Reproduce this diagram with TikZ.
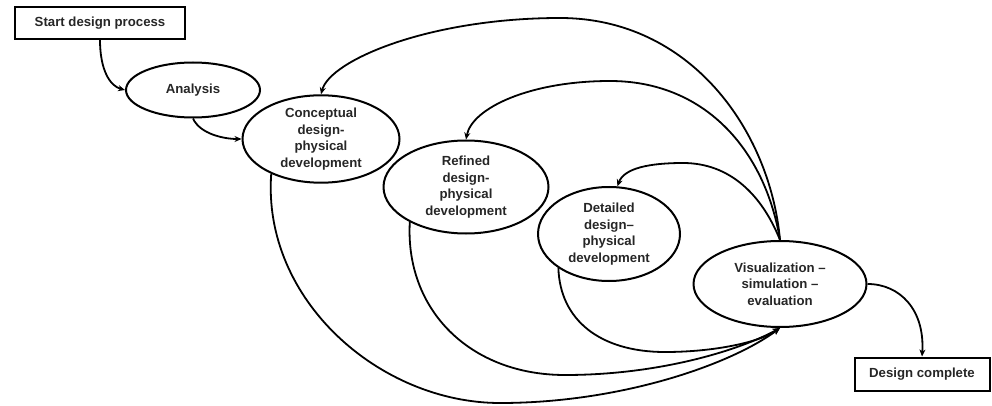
\documentclass[tikz,border=0pt]{standalone}
\usepackage{fontspec}
\setmainfont{Liberation Sans}
\usetikzlibrary{shapes.geometric,arrows.meta}
\begin{document}
\begin{tikzpicture}[x=1pt,y=-1pt,
  lbl/.style={font=\bfseries\fontsize{13.2}{16.5}\selectfont, align=center, text=black!85},
  oval/.style={lbl, draw, ellipse, line width=2pt, inner sep=0pt},
  boxx/.style={lbl, draw, rectangle, line width=2pt, inner sep=0pt},
  arr/.style={line width=1.8pt, -{Stealth[length=7pt,width=6pt]}}]
\useasboundingbox (0,0) rectangle (992,406);
\node[boxx, minimum width=170pt, minimum height=32pt] (start) at (100,23) {Start design process};
\node[oval, minimum width=134pt, minimum height=55pt] (ana) at (193,90) {Analysis};
\node[oval, minimum width=157pt, minimum height=78pt] (con) at (321,139) {Conceptual\\design-\\physical\\development};
\node[oval, minimum width=165pt, minimum height=93pt] (ref) at (466,187) {Refined\\design-\\physical\\development};
\node[oval, minimum width=142pt, minimum height=94pt] (det) at (609,234) {Detailed\\design--\\physical\\development};
\node[oval, minimum width=173pt, minimum height=86pt] (vis) at (780,284) {Visualization --\\simulation --\\evaluation};
\node[boxx, minimum width=135pt, minimum height=33pt] (done) at (922,374) {Design complete};

\draw[arr] (start.south) .. controls (100,70) and (110,86) .. (ana.west);
\draw[arr] (ana.south) .. controls (200,134) and (224,139) .. (con.west);

\draw[arr] (vis.north) .. controls (770,130) and (690,18) .. (560,18) .. controls (430,18) and (330,60) .. (con.north);
\draw[arr] (vis.north) .. controls (765,150) and (705,81) .. (610,81) .. controls (530,81) and (472,108) .. (ref.north);
\draw[arr] (vis.north) .. controls (762,195) and (730,163) .. (683,163) .. controls (650,163) and (624,168) .. (det.80);

\draw[arr] (con.215) .. controls (262,300) and (380,403) .. (500,403) .. controls (620,403) and (730,365) .. (vis.south);
\draw[arr] (ref.212) .. controls (405,310) and (470,375) .. (565,375) .. controls (660,375) and (740,350) .. (vis.south);
\draw[arr] (det.214) .. controls (560,320) and (600,352) .. (665,352) .. controls (715,352) and (760,342) .. (vis.south);

\draw[arr] (vis.east) .. controls (900,284) and (925,310) .. (done.north);
\end{tikzpicture}
\end{document}
